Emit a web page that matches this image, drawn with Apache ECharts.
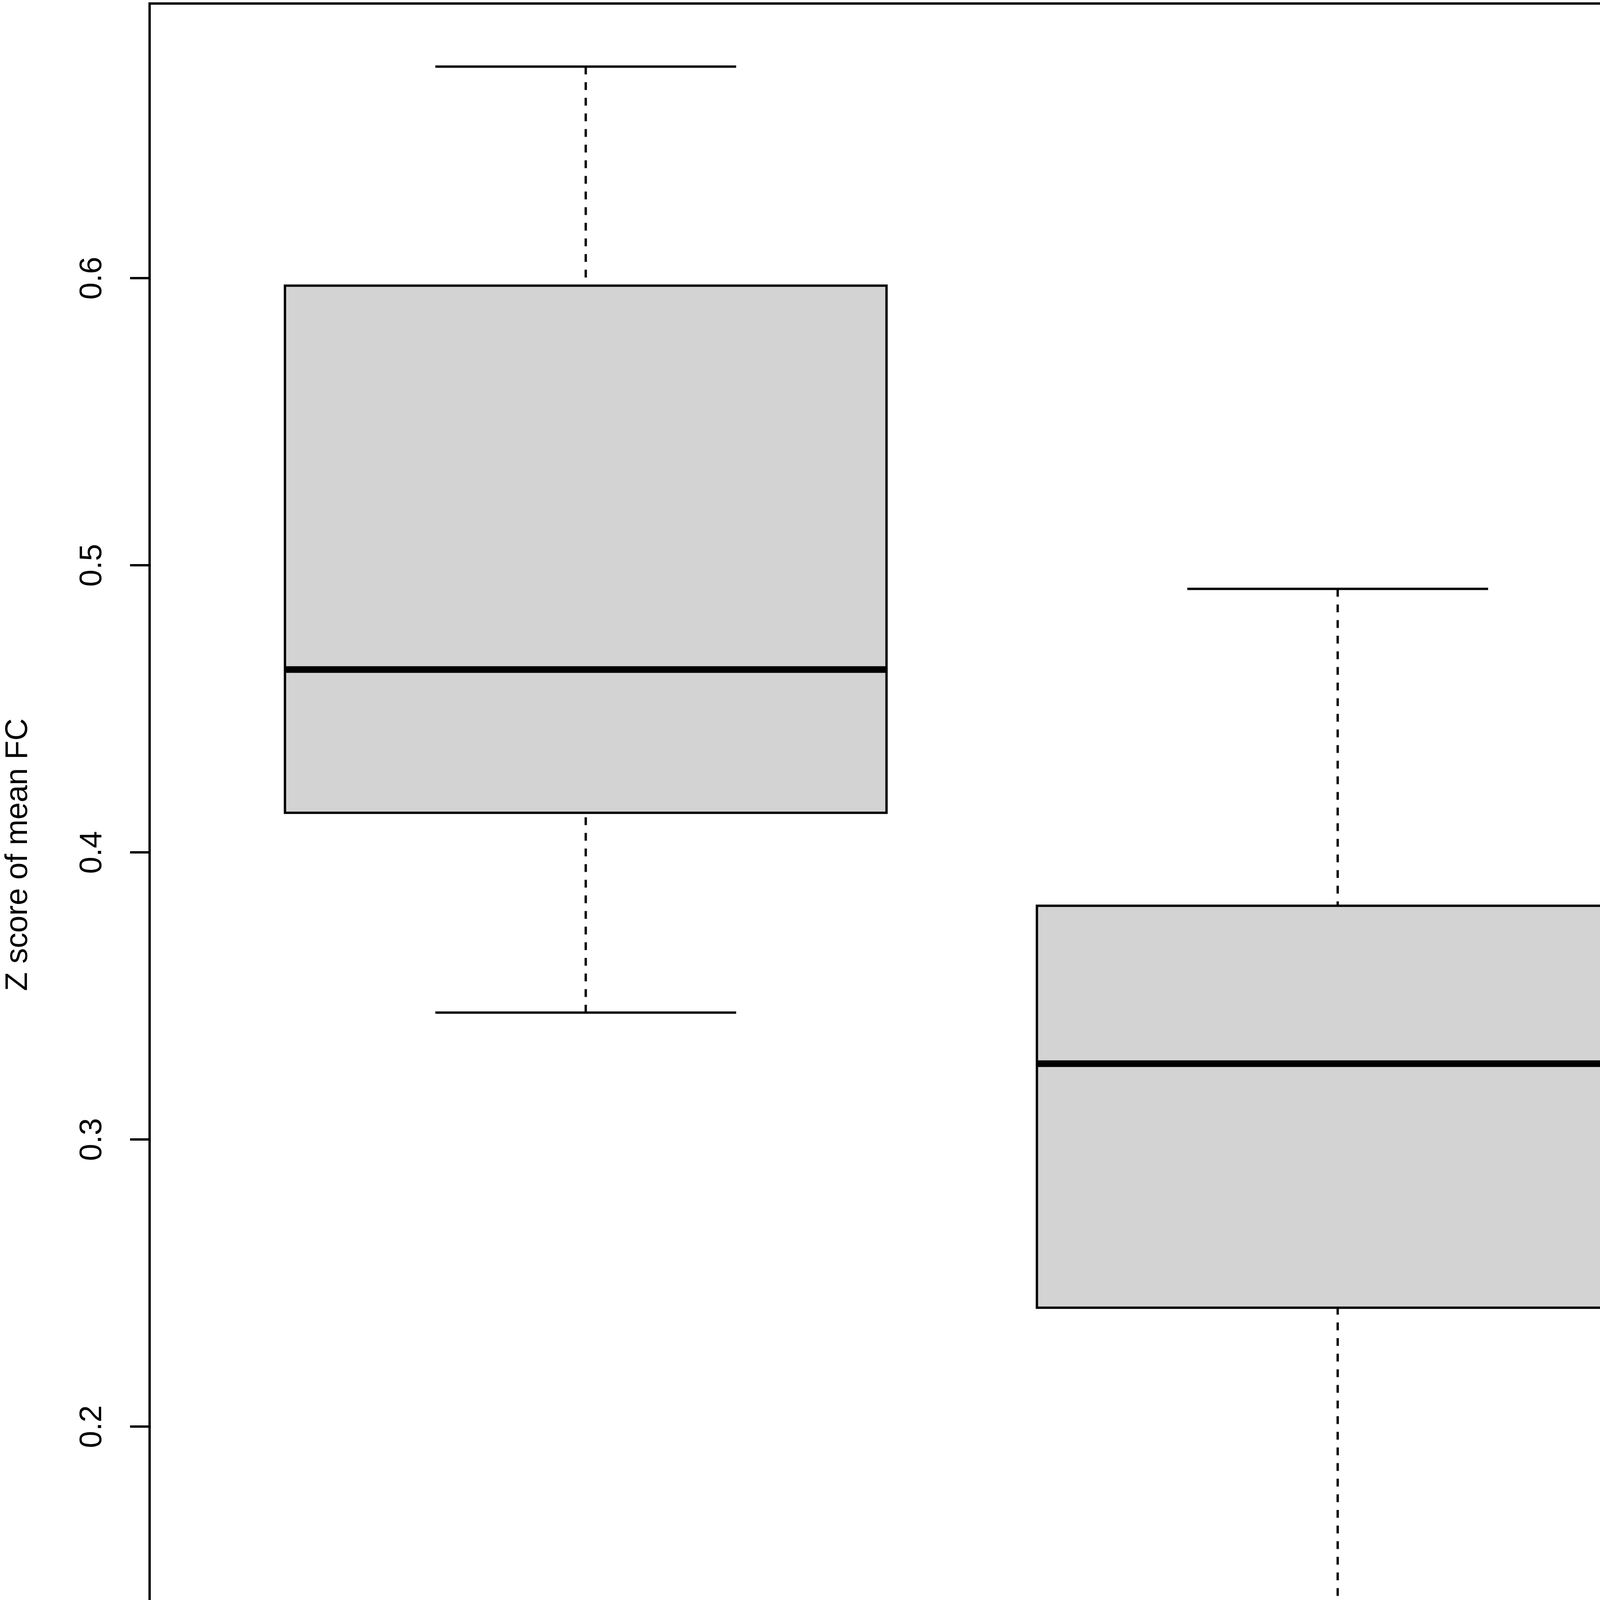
<!DOCTYPE html>
<html>
<head>
<meta charset="utf-8">
<script src="https://cdn.jsdelivr.net/npm/echarts@6/dist/echarts.min.js"></script>
<style>
html,body{margin:0;padding:0;background:#fff;}
#chart{width:4550px;height:4753px;}
</style>
</head>
<body>
<div id="chart"></div>
<script>
// ---- data ----
const categories = ['bilinguals', 'monolinguals'];
const whiskerLow  = [0.3442, 0.1247];
const q1Values    = [0.4138, 0.2414];
const medianValues= [0.4637, 0.3264];
const q3Values    = [0.5974, 0.3814];
const whiskerHigh = [0.6737, 0.4918];
const yTickValues = [0.2, 0.3, 0.4, 0.5, 0.6];
const xTickValues = [1, 2];

// R-style axis extent (4% padding around data range)
const dMin = Math.min(...whiskerLow), dMax = Math.max(...whiskerHigh);
const pad = (dMax - dMin) * 0.04;
const yMin = dMin - pad, yMax = dMax + pad;
const xPadR = (categories.length + 0.5 - 0.5) * 0.04;
const xMin = 0.5 - xPadR, xMax = categories.length + 0.5 + xPadR;

const seriesData = categories.map((c, i) => [i + 1, whiskerLow[i], q1Values[i], medianValues[i], q3Values[i], whiskerHigh[i]]);

const FONT = '"Liberation Sans", Arial, Helvetica, sans-serif';
const LW = 6;

const chart = echarts.init(document.getElementById('chart'), null, {renderer: 'canvas'});
chart.setOption({
  animation: false,
  backgroundColor: '#ffffff',
  grid: {
    left: 370, right: 9, top: 9, bottom: 382,
    show: true, borderColor: '#000', borderWidth: LW, backgroundColor: 'transparent'
  },
  xAxis: {
    type: 'value', min: xMin, max: xMax,
    name: 'group', nameLocation: 'middle', nameGap: 302,
    nameTextStyle: {fontFamily: FONT, fontSize: 79, color: '#000'},
    axisLine: {show: false},
    splitLine: {show: false},
    axisTick: {show: true, length: 48, lineStyle: {color: '#000', width: LW}, customValues: xTickValues},
    axisLabel: {
      fontFamily: FONT, fontSize: 79, color: '#000', margin: 114,
      customValues: xTickValues,
      formatter: v => categories[Math.round(v) - 1] || ''
    }
  },
  yAxis: {
    type: 'value', min: yMin, max: yMax,
    name: 'Z score of mean FC', nameLocation: 'middle', nameGap: 296, nameRotate: 90,
    nameTextStyle: {fontFamily: FONT, fontSize: 79, color: '#000'},
    axisLine: {show: false},
    splitLine: {show: false},
    axisTick: {show: true, length: 50, lineStyle: {color: '#000', width: LW}, customValues: yTickValues},
    axisLabel: {
      fontFamily: FONT, fontSize: 79, color: '#000', margin: 106, rotate: 90,
      customValues: yTickValues,
      formatter: v => String(Math.round(v * 10) / 10)
    }
  },
  series: [{
    type: 'custom',
    data: seriesData,
    encode: {x: 0, y: [1, 2, 3, 4, 5]},
    clip: false,
    renderItem: function (params, api) {
      const x = api.value(0);
      const lo = api.value(1), q1 = api.value(2), md = api.value(3), q3 = api.value(4), hi = api.value(5);
      const pBoxL = api.coord([x - 0.4, q3]);
      const pBoxR = api.coord([x + 0.4, q1]);
      const pC_hi = api.coord([x, hi]);
      const pC_q3 = api.coord([x, q3]);
      const pC_q1 = api.coord([x, q1]);
      const pC_lo = api.coord([x, lo]);
      const sHiL = api.coord([x - 0.2, hi]), sHiR = api.coord([x + 0.2, hi]);
      const sLoL = api.coord([x - 0.2, lo]), sLoR = api.coord([x + 0.2, lo]);
      const mL = api.coord([x - 0.4, md]), mR = api.coord([x + 0.4, md]);
      const dashStyle = {stroke: '#000', lineWidth: LW, lineDash: [20, 20], lineCap: 'butt'};
      const solid = {stroke: '#000', lineWidth: LW, lineCap: 'butt'};
      return {
        type: 'group',
        children: [
          {type: 'line', shape: {x1: pC_hi[0], y1: pC_hi[1], x2: pC_q3[0], y2: pC_q3[1]}, style: dashStyle},
          {type: 'line', shape: {x1: pC_lo[0], y1: pC_lo[1], x2: pC_q1[0], y2: pC_q1[1]}, style: dashStyle},
          {type: 'line', shape: {x1: sHiL[0], y1: sHiL[1], x2: sHiR[0], y2: sHiR[1]}, style: solid},
          {type: 'line', shape: {x1: sLoL[0], y1: sLoL[1], x2: sLoR[0], y2: sLoR[1]}, style: solid},
          {type: 'rect', shape: {x: pBoxL[0], y: pBoxL[1], width: pBoxR[0] - pBoxL[0], height: pBoxR[1] - pBoxL[1]},
            style: {fill: '#D3D3D3', stroke: '#000', lineWidth: LW}},
          {type: 'line', shape: {x1: mL[0], y1: mL[1], x2: mR[0], y2: mR[1]}, style: {stroke: '#000', lineWidth: 17, lineCap: 'butt'}}
        ]
      };
    }
  }]
});
</script>
</body>
</html>
